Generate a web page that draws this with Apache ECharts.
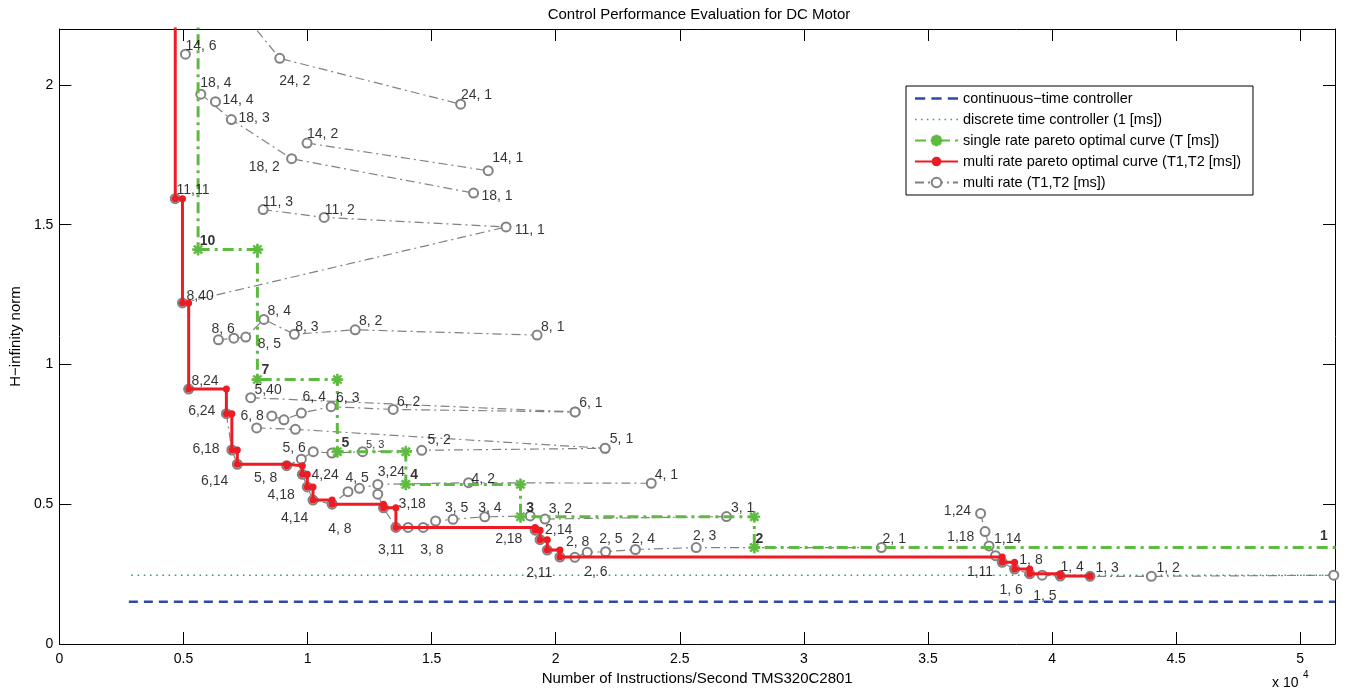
<!DOCTYPE html>
<html>
<head>
<meta charset="utf-8">
<title>Control Performance Evaluation for DC Motor</title>
<script src="https://cdn.jsdelivr.net/npm/echarts@6/dist/echarts.min.js"></script>
<style>
  html, body { margin: 0; padding: 0; background: #fff; }
  #chart { width: 1351px; height: 694px; }
</style>
</head>
<body>
<div id="chart"></div>
<script>
// x in 10^4 instructions/second, y = H-infinity norm
const xTicks = [0, 0.5, 1, 1.5, 2, 2.5, 3, 3.5, 4, 4.5, 5]
const yTicks = [0, 0.5, 1, 1.5, 2]

const continuousCtrl = [[0.28, 0.151], [5.14, 0.151]]
const discreteCtrl = [[0.29, 0.246], [5.14, 0.246]]

// single rate pareto points (T = 10, 7, 5, 4, 3, 2, 1), first one lies above the plot
const singleRate = [[0.45, 2.6], [0.559, 1.411], [0.798, 0.946], [1.120, 0.688], [1.396, 0.571],
    [1.858, 0.455], [2.800, 0.345], [5.30, 0.345]]

// multi rate pareto points, first one lies above the plot
const multiPareto = [[0.42, 2.6], [0.467, 1.593], [0.496, 1.220], [0.521, 0.912], [0.673, 0.824],
    [0.695, 0.694], [0.717, 0.643], [0.916, 0.638], [0.979, 0.607], [0.999, 0.562], [1.022, 0.515],
    [1.099, 0.500], [1.306, 0.487], [1.356, 0.417], [1.917, 0.407], [1.937, 0.373], [1.966, 0.336],
    [2.017, 0.311], [3.799, 0.292], [3.849, 0.268], [3.910, 0.251], [4.033, 0.243], [4.153, 0.242]]

// multi rate runs (null = gap in the line)
const mr24 = [[0.70, 2.30], [0.888, 2.095], [1.617, 1.931]]
const mr18 = [[0.570, 1.967], [0.693, 1.876], [0.936, 1.736], [1.669, 1.613]]
const mr14 = [[0.508, 2.110], null, [0.629, 1.940], null, [0.998, 1.792], [1.728, 1.693]]
const mr11 = [[0.467, 1.593], null, [0.821, 1.554], [1.067, 1.526], [1.800, 1.492], [0.496, 1.220]]
const mr8 = [[0.521, 0.912], null, [0.641, 1.088], [0.703, 1.094], [0.751, 1.098], [0.824, 1.161],
    [0.947, 1.108], [1.192, 1.124], [1.925, 1.105]]
const mr6 = [[0.673, 0.824], [0.695, 0.694], [0.717, 0.643], null, [0.856, 0.816], [0.905, 0.802],
    [0.975, 0.826], [1.095, 0.849], [1.345, 0.839], [2.078, 0.830]]
const mr5a = [[0.771, 0.881], [2.078, 0.830]]
const mr5b = [[0.795, 0.773], [0.951, 0.768], [2.199, 0.700]]
const mr5 = [[0.916, 0.638], [0.975, 0.661], [1.023, 0.688], [1.098, 0.683], [1.222, 0.688],
    [1.460, 0.693], [2.199, 0.700]]
const mr4 = [[0.979, 0.607], [0.999, 0.562], [1.022, 0.515], [1.099, 0.500], [1.163, 0.545],
    [1.209, 0.557], [1.283, 0.571], [1.649, 0.577], [2.385, 0.575]]
const mr3 = [[1.283, 0.536], [1.306, 0.487], [1.356, 0.417], [1.405, 0.417], [1.466, 0.417],
    [1.516, 0.440], [1.586, 0.446], [1.714, 0.455], [1.897, 0.458], [1.957, 0.447], [2.688, 0.456]]
const mr2 = [[1.917, 0.407], [1.937, 0.373], [1.966, 0.336], [2.017, 0.311], [2.077, 0.310],
    [2.127, 0.328], [2.201, 0.330], [2.321, 0.338], [2.566, 0.345], [3.312, 0.345]]
const mr1 = [[3.712, 0.467], [3.730, 0.402], [3.746, 0.351], [3.772, 0.316], [3.799, 0.292],
    [3.849, 0.268], [3.910, 0.251], [3.960, 0.246], [4.033, 0.243], [4.153, 0.242], [4.400, 0.242],
    [5.135, 0.246]]

// text annotations (x, y, text) as placed in the original plot
const pointLabels = [
    [0.510, 2.137, '14, 6'], [0.888, 2.010, '24, 2'], [1.620, 1.961, '24, 1'], [0.570, 2.005, '18, 4'],
    [0.659, 1.945, '14, 4'], [0.724, 1.881, '18, 3'], [1.000, 1.821, '14, 2'], [0.765, 1.705, '18, 2'],
    [1.746, 1.735, '14, 1'], [1.703, 1.599, '18, 1'], [0.474, 1.621, '11,11'], [0.822, 1.580, '11, 3'],
    [1.071, 1.551, '11, 2'], [1.837, 1.480, '11, 1'], [0.514, 1.244, '8,40'], [0.841, 1.188, '8, 4'],
    [0.615, 1.125, '8, 6'], [0.952, 1.131, '8, 3'], [1.209, 1.152, '8, 2'], [1.943, 1.131, '8, 1'],
    [0.801, 1.070, '8, 5'], [0.534, 0.940, '8,24'], [0.788, 0.908, '5,40'], [0.982, 0.880, '6, 4'],
    [1.117, 0.878, '6, 3'], [1.362, 0.865, '6, 2'], [2.097, 0.860, '6, 1'], [0.521, 0.831, '6,24'],
    [0.732, 0.813, '6, 8'], [0.538, 0.696, '6,18'], [0.901, 0.699, '5, 6'], [1.485, 0.726, '5, 2'],
    [2.220, 0.730, '5, 1'], [0.573, 0.582, '6,14'], [0.786, 0.592, '5, 8'], [1.018, 0.604, '4,24'],
    [1.155, 0.592, '4, 5'], [1.285, 0.613, '3,24'], [1.663, 0.589, '4, 2'], [2.401, 0.604, '4, 1'],
    [0.841, 0.532, '4,18'], [1.369, 0.500, '3,18'], [1.556, 0.485, '3, 5'], [1.690, 0.485, '3, 4'],
    [1.974, 0.482, '3, 2'], [2.708, 0.485, '3, 1'], [0.895, 0.449, '4,14'], [1.085, 0.408, '4, 8'],
    [1.758, 0.373, '2,18'], [1.959, 0.405, '2,14'], [1.286, 0.333, '3,11'], [1.456, 0.333, '3, 8'],
    [2.043, 0.361, '2, 8'], [2.177, 0.375, '2, 5'], [2.308, 0.375, '2, 4'], [2.555, 0.383, '2, 3'],
    [1.883, 0.250, '2,11'], [2.117, 0.256, '2, 6'], [3.319, 0.375, '2, 1'], [3.566, 0.473, '1,24'],
    [3.579, 0.381, '1,18'], [3.768, 0.375, '1,14'], [3.870, 0.298, '1, 8'], [3.659, 0.256, '1,11'],
    [4.036, 0.274, '1, 4'], [4.177, 0.270, '1, 3'], [4.423, 0.270, '1, 2'], [3.790, 0.190, '1, 6'],
    [3.926, 0.170, '1, 5']
]
const smallLabels = [[1.238, 0.711, '5, 3']]
const singleLabels = [[0.568, 1.438, '10'], [0.817, 0.979, '7'], [1.139, 0.718, '5'], [1.416, 0.601, '4'],
    [1.883, 0.485, '3'], [2.807, 0.373, '2'], [5.082, 0.385, '1']]

const FONT = '"Liberation Sans", Arial, Helvetica, sans-serif'
const GRAY = '#828282'
const MR_NAME = 'multi rate (T1,T2 [ms])'
const STAR = 'path://M-1,-6L1,-6L1,6L-1,6Z M-6,-1L6,-1L6,1L-6,1Z M-4.95,-3.54L3.54,4.95L4.95,3.54L-3.54,-4.95Z M-4.95,3.54L3.54,-4.95L4.95,-3.54L-3.54,4.95Z'
// legend samples for the two plain lines
const DASH_ICON = 'path://M0,0h10v2.6H0z M16,0h10v2.6H16z M32,0h10v2.6H32z'
const DOT_ICON = 'path://M0,0h1.6v1.6H0z M6,0h1.6v1.6H6z M12,0h1.6v1.6H12z M18,0h1.6v1.6H18z M24,0h1.6v1.6H24z M30,0h1.6v1.6H30z M36,0h1.6v1.6H36z M42,0h1.6v1.6H42z'

// horizontal then vertical steps, with a marker on every corner
const stair = (pts) => {
    const out = []
    pts.forEach((p, i) => {
        if (i > 0) out.push([p[0], pts[i - 1][1]])
        out.push(p)
    })
    return out
}

const textSeries = (rows, style) => ({
    type: 'scatter',
    data: rows,
    symbol: 'circle',
    symbolSize: 1,
    itemStyle: { color: 'rgba(0,0,0,0)' },
    silent: true,
    z: 10,
    label: Object.assign({
        show: true,
        position: [0, 0],
        align: 'left',
        verticalAlign: 'middle',
        color: '#000',
        fontFamily: FONT,
        fontSize: 14,
        formatter: (p) => p.value[2]
    }, style)
})

const mrGroups = [mr24, mr18, mr14, mr11, mr8, mr6, mr5a, mr5b, mr5, mr4, mr3, mr2, mr1]

const axisCommon = {
    type: 'value',
    axisLine: { onZero: false, lineStyle: { color: '#000', width: 1 } },
    axisTick: { inside: true, length: 12, lineStyle: { color: '#000', width: 1 } },
    splitLine: { show: false }
}

const myChart = echarts.init(document.getElementById('chart'))
myChart.setOption({
    animation: false,
    backgroundColor: '#fff',
    title: {
        text: 'Control Performance Evaluation for DC Motor',
        left: 694,
        textAlign: 'center',
        top: 2,
        textStyle: { color: '#000', fontSize: 15, fontWeight: 'normal', fontFamily: FONT }
    },
    grid: { left: 53, right: 16, top: 29, bottom: 50 },
    legend: {
        data: [
            { name: 'continuous\u2212time controller', icon: DASH_ICON },
            { name: 'discrete time controller (1 [ms])', icon: DOT_ICON },
            'single rate pareto optimal curve (T [ms])',
            'multi rate pareto optimal curve (T1,T2 [ms])',
            MR_NAME
        ],
        orient: 'vertical',
        left: 906,
        top: 86,
        padding: [5, 12, 5, 8],
        itemWidth: 43,
        itemHeight: 12,
        itemGap: 6,
        backgroundColor: '#fff',
        borderColor: '#000',
        borderWidth: 1,
        borderRadius: 0,
        textStyle: { color: '#000', fontSize: 14.5, fontFamily: FONT }
    },
    xAxis: [
        Object.assign({}, axisCommon, {
            min: xTicks[0], max: 5.14, interval: 0.5, position: 'bottom',
            axisLabel: { color: '#000', fontSize: 14, fontFamily: FONT, margin: 8, showMaxLabel: false },
            name: 'Number of Instructions/Second TMS320C2801',
            nameLocation: 'middle',
            nameGap: 25,
            nameTextStyle: { color: '#000', fontSize: 15, fontFamily: FONT }
        }),
        Object.assign({}, axisCommon, {
            min: xTicks[0], max: 5.14, interval: 0.5, position: 'top',
            axisLabel: { show: false }
        })
    ],
    yAxis: [
        Object.assign({}, axisCommon, {
            min: yTicks[0], max: 2.2, interval: 0.5, position: 'left',
            axisLabel: { color: '#000', fontSize: 14, fontFamily: FONT, margin: 6, showMaxLabel: false },
            name: 'H\u2212infinity norm',
            nameLocation: 'middle',
            nameGap: 30,
            nameTextStyle: { color: '#000', fontSize: 15, fontFamily: FONT }
        }),
        Object.assign({}, axisCommon, {
            min: yTicks[0], max: 2.2, interval: 0.5, position: 'right',
            axisLabel: { show: false }
        })
    ],
    graphic: [
        { type: 'text', left: 1272, top: 676, style: { text: 'x 10', fill: '#000', fontSize: 14, fontFamily: FONT } },
        { type: 'text', left: 1303, top: 670, style: { text: '4', fill: '#000', fontSize: 10, fontFamily: FONT } }
    ],
    series: [
        ...mrGroups.map((g) => ({
            name: MR_NAME,
            type: 'line',
            data: g,
            connectNulls: false,
            symbol: 'emptyCircle',
            symbolSize: 9,
            showAllSymbol: true,
            itemStyle: { color: GRAY, borderColor: GRAY, borderWidth: 1.2 },
            lineStyle: { color: GRAY, width: 1.2, type: [9, 4, 2, 4] },
            z: 2
        })),
        {
            name: 'continuous\u2212time controller',
            type: 'line',
            data: continuousCtrl,
            symbol: 'none',
            lineStyle: { color: '#3149a6', width: 2.6, type: [9, 6] },
            itemStyle: { color: '#3149a6' },
            z: 2
        },
        {
            name: 'discrete time controller (1 [ms])',
            type: 'line',
            data: discreteCtrl,
            symbol: 'none',
            lineStyle: { color: '#3a9e5c', width: 1.6, type: [1.6, 4.6] },
            itemStyle: { color: '#3a9e5c' },
            z: 2
        },
        {
            name: 'single rate pareto optimal curve (T [ms])',
            type: 'line',
            data: stair(singleRate),
            symbol: STAR,
            symbolSize: 11,
            showAllSymbol: true,
            itemStyle: { color: '#5dbb3f', borderColor: '#5dbb3f', borderWidth: 0.8 },
            lineStyle: { color: '#5dbb3f', width: 3, type: [11, 5, 3, 5] },
            z: 3
        },
        {
            name: 'multi rate pareto optimal curve (T1,T2 [ms])',
            type: 'line',
            data: stair(multiPareto),
            symbol: 'circle',
            symbolSize: 7,
            showAllSymbol: true,
            itemStyle: { color: '#ec1c24' },
            lineStyle: { color: '#ec1c24', width: 3 },
            z: 4
        },
        textSeries(pointLabels, {}),
        textSeries(smallLabels, { fontSize: 11 }),
        textSeries(singleLabels, { fontWeight: 'bold' })
    ]
})

window.addEventListener('resize', () => myChart.resize())
</script>
</body>
</html>
